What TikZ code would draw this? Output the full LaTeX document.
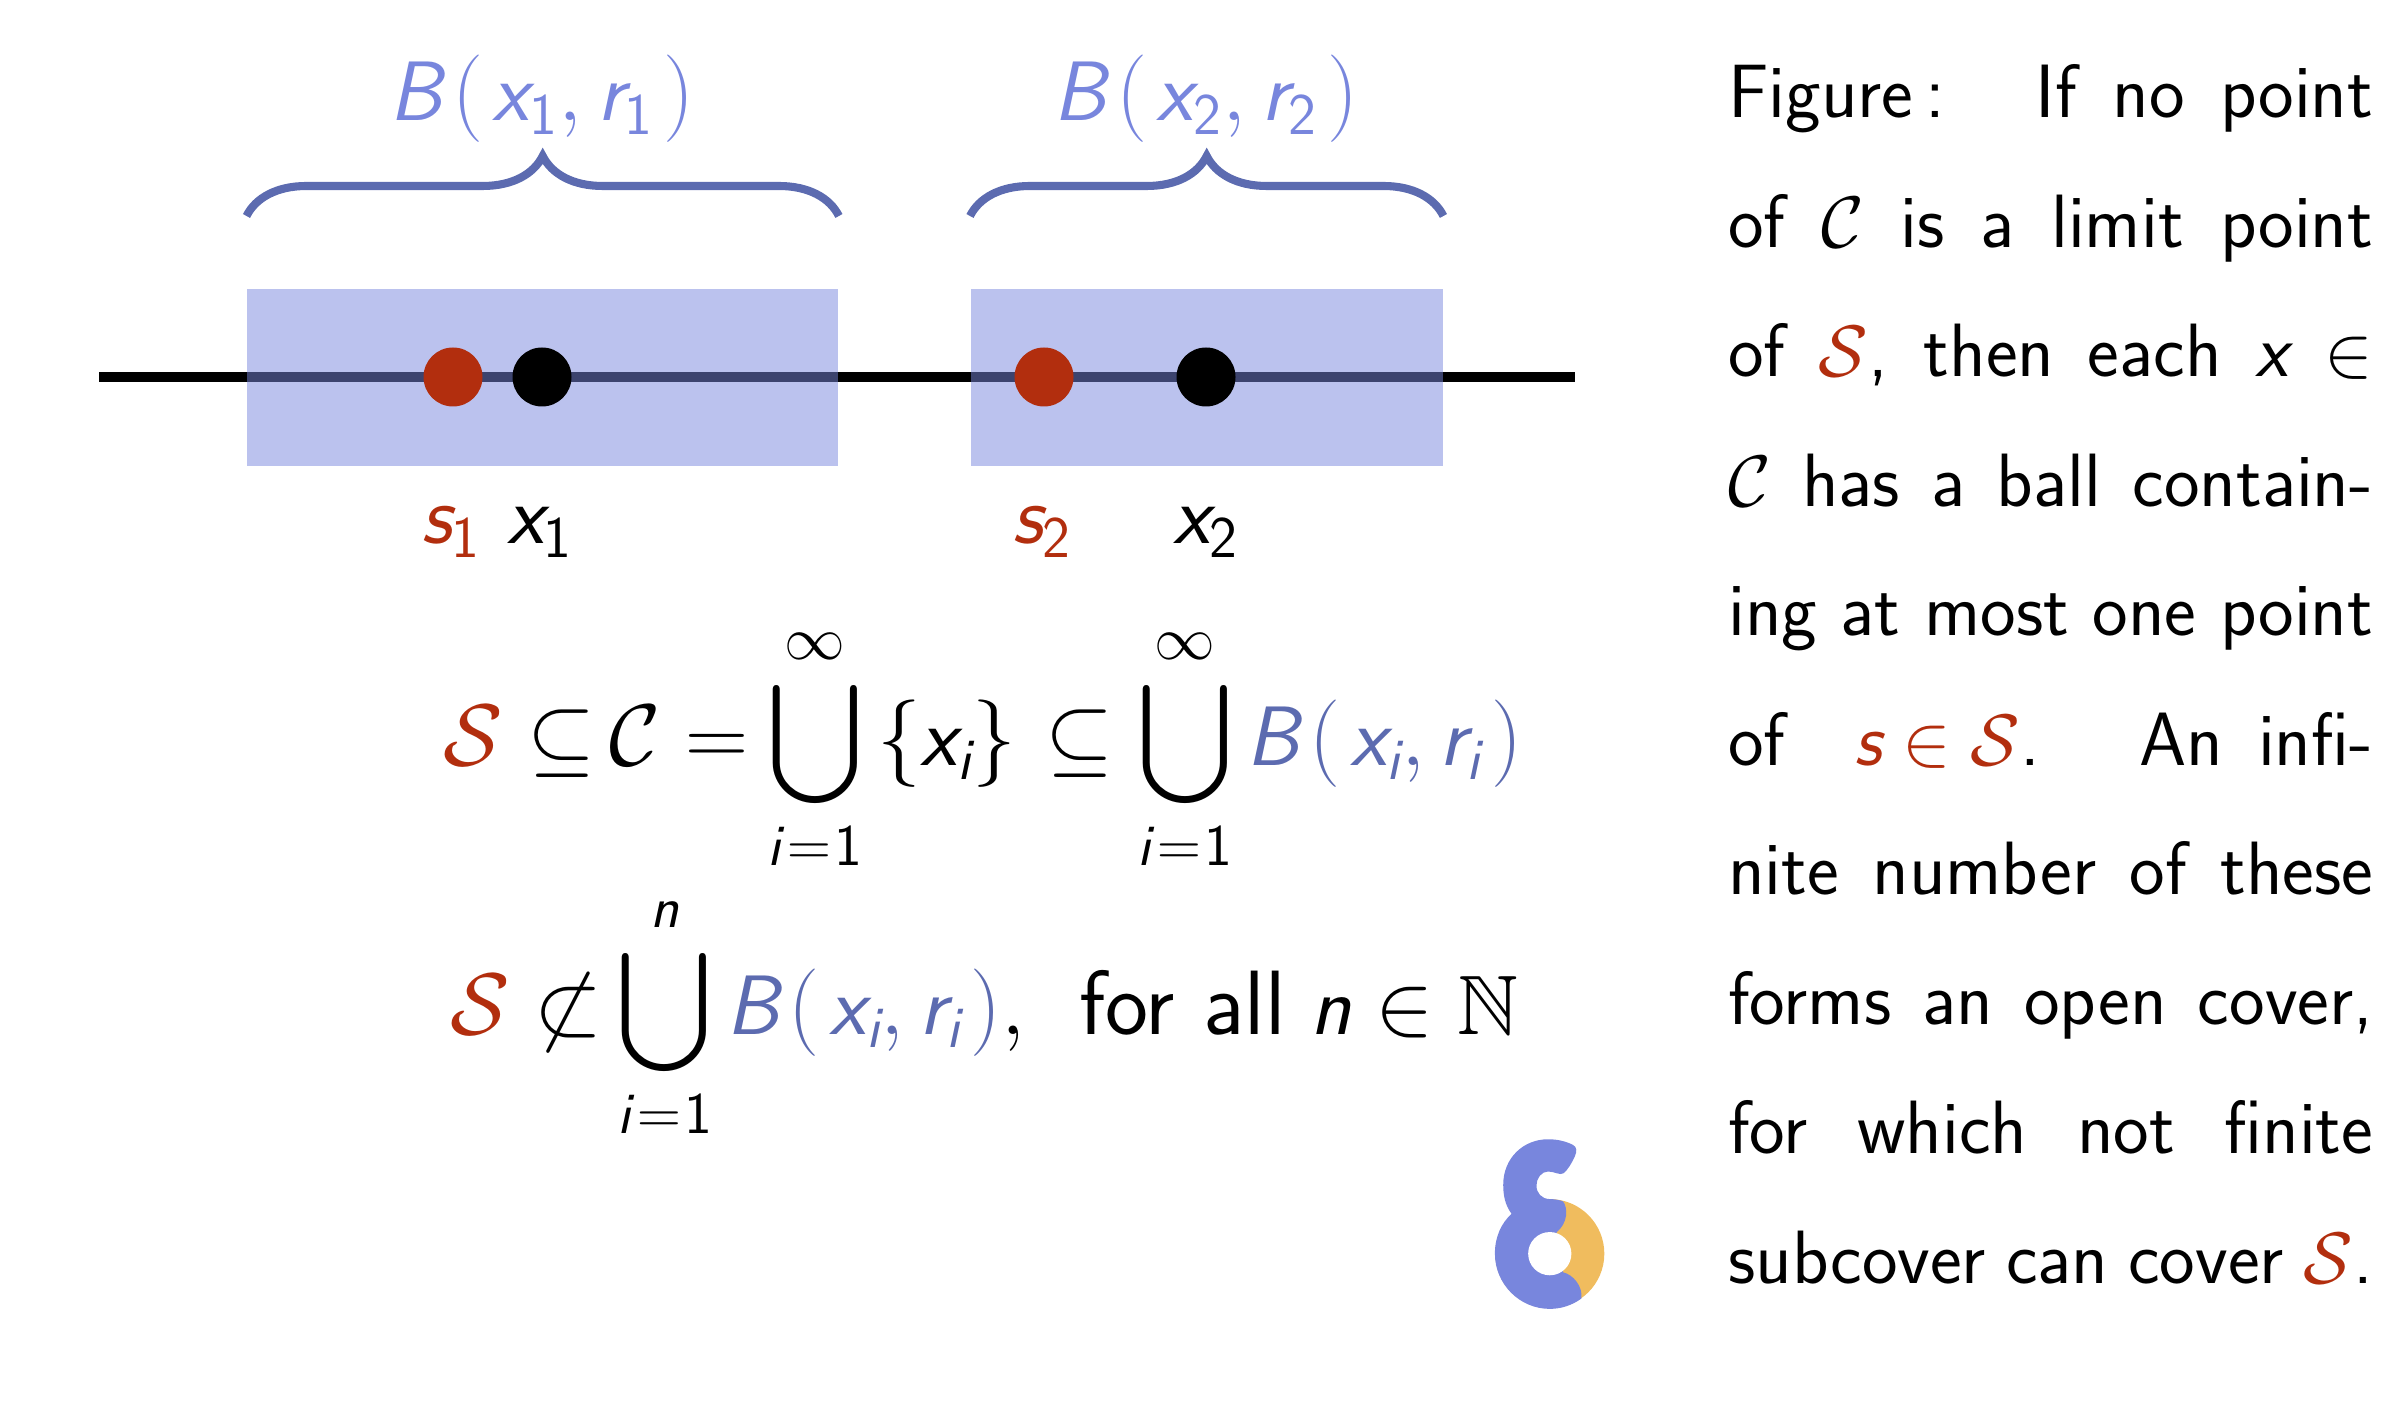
\documentclass[tikz,border=0pt]{standalone}
\usepackage{amsmath,amssymb,amsfonts}
\usepackage{xcolor}
\usetikzlibrary{positioning,calc,decorations.pathreplacing}
\definecolor{ballblue}{HTML}{7886DD}
\definecolor{deepblue}{HTML}{5C6BB0}
\definecolor{ptred}{HTML}{B22E0E}
\definecolor{logogold}{HTML}{F0BC5E}
\newcommand{\mv}[1]{\text{\sffamily\slshape #1}}
\newcommand{\mn}[1]{\text{\sffamily\upshape #1}}
\newcommand{\sR}{\textcolor{ptred}{\mathcal{S}}}
\newcommand{\ballof}[2]{\mv{B}\mkern2mu(\mkern2mu\mv{x}_{#1},\mv{r}_{#2}\mkern2mu)}
\newcommand{\ione}{\mv{i}\mkern2mu{=}\mkern1mu\mn{1}}
\tikzset{
  ballbox/.style={rectangle,fill=ballblue,fill opacity=0.5,inner sep=0pt,
                  minimum height=1.77cm,anchor=north west},
  ptdot/.style={circle,inner sep=0pt,minimum size=0.59cm},
  mathlab/.style={font=\fontsize{24}{28}\selectfont,inner sep=0pt,anchor=base},
  ballbrace/.style={decorate,decoration={brace,amplitude=0.6cm},
                    line width=2.3pt,deepblue},
  captxt/.style={font=\fontsize{21.5}{36.85}\selectfont\sffamily,inner sep=0pt,
                 text width=6.45cm,align=justify,anchor=north west},
}
\begin{document}
\begin{tikzpicture}
  \useasboundingbox (0,0) rectangle (24,14);
  %% Real line and balls
  \coordinate (lineL) at (0.99,10.23);
  \coordinate (lineR) at (15.75,10.23);
  \draw[line width=2.9pt] (lineL) -- (lineR);
  \node[ballbox,minimum width=5.91cm] (B1) at (2.465,11.12) {};
  \node[ballbox,minimum width=4.72cm] (B2) at (9.70,11.12) {};
  %% Points
  \node[ptdot,fill=ptred] (s1) at (4.53,10.23) {};
  \node[ptdot,fill=black] (x1) at (5.42,10.23) {};
  \node[ptdot,fill=ptred] (s2) at (10.44,10.23) {};
  \node[ptdot,fill=black] (x2) at (12.06,10.23) {};
  \node[mathlab] (s1lab) at ($(s1)+(-0.02,-1.67)$) {$\textcolor{ptred}{\mv{s}_{\mn{1}}}$};
  \node[mathlab] (x1lab) at ($(x1)+(-0.02,-1.67)$) {$\mv{x}_{\mn{1}}$};
  \node[mathlab] (s2lab) at ($(s2)+(-0.02,-1.67)$) {$\textcolor{ptred}{\mv{s}_{\mn{2}}}$};
  \node[mathlab] (x2lab) at ($(x2)+(0,-1.67)$) {$\mv{x}_{\mn{2}}$};
  %% Braces
  \draw[ballbrace] ($(B1.north west)+(0,0.72)$) -- ($(B1.north east)+(0,0.72)$);
  \draw[ballbrace] ($(B2.north west)+(0,0.72)$) -- ($(B2.north east)+(0,0.72)$);
  \node[mathlab,text=ballblue] (ball1) at (5.42,12.79) {$\ballof{\mn{1}}{\mn{1}}$};
  \node[mathlab,text=ballblue] (ball2) at (12.06,12.79) {$\ballof{\mn{2}}{\mn{2}}$};
  %% Formulas
  \node[mathlab,anchor=base west] (eq1) at (4.43,6.34)
    {$\displaystyle \sR\subseteq\mkern-2mu\mathcal{C}=\mkern-1mu\bigcup_{\ione}^{\infty}\,\{\mv{x}_{\mv{i}}\}\mkern1mu\subseteq
      \bigcup_{\ione}^{\infty}\textcolor{deepblue}{\ballof{\mv{i}}{\mv{i}}}$};
  \node[mathlab,anchor=base west] (eq2) at (4.50,3.66)
    {$\displaystyle \sR\not\subset\mkern-2mu\bigcup_{\ione}^{\mv{n}}\textcolor{deepblue}{\ballof{\mv{i}}{\mv{i}}},
      \;\mkern3mu\text{\sffamily\fontsize{26}{28}\selectfont for all}\;\mv{n}\in\mathbb{N}$};
  %% Caption
  \node[captxt] (cap) at (17.275,13.36) {
    Figure\,: \ If no point\linebreak
    of $\mathcal{C}$ is a limit point\linebreak
    of $\sR$, then each $\mv{x}\in$\linebreak
    $\mathcal{C}$ has a ball contain-\linebreak
    ing at most one point\linebreak
    of \ $\textcolor{ptred}{\mv{s}\in\mathcal{S}}$. \ An infi-\linebreak
    nite number of these\linebreak
    forms an open cover,\linebreak
    for which not finite\linebreak
    \makebox[6.45cm][s]{subcover can cover $\sR$.}};
  %% Logo
  \begin{scope}[shift={(14.40,3.0)},x=0.003333cm,y=-0.003333cm]
    \fill[logogold] (330,462) circle (164);
    \fill[ballblue] (425,597) .. controls (397,617) and (365,628) .. (330,628)
      .. controls (239,628) and (165,553) .. (165,462)
      .. controls (165,410) and (185,370) .. (215,342)
      .. controls (195,315) and (190,285) .. (190,255)
      .. controls (190,175) and (250,118) .. (325,118)
      .. controls (355,118) and (380,125) .. (400,135)
      .. controls (412,142) and (412,155) .. (405,170)
      .. controls (395,192) and (385,208) .. (372,220)
      .. controls (360,228) and (345,215) .. (325,215)
      .. controls (305,215) and (290,235) .. (290,257)
      .. controls (290,280) and (305,297) .. (330,298)
      .. controls (345,298) and (358,300) .. (370,305)
      .. controls (385,325) and (385,370) .. (350,398)
      -- (370,518)
      .. controls (400,525) and (430,560) .. (425,597) -- cycle;
    \fill[white] (330,462) circle (65);
  \end{scope}
\end{tikzpicture}
\end{document}
